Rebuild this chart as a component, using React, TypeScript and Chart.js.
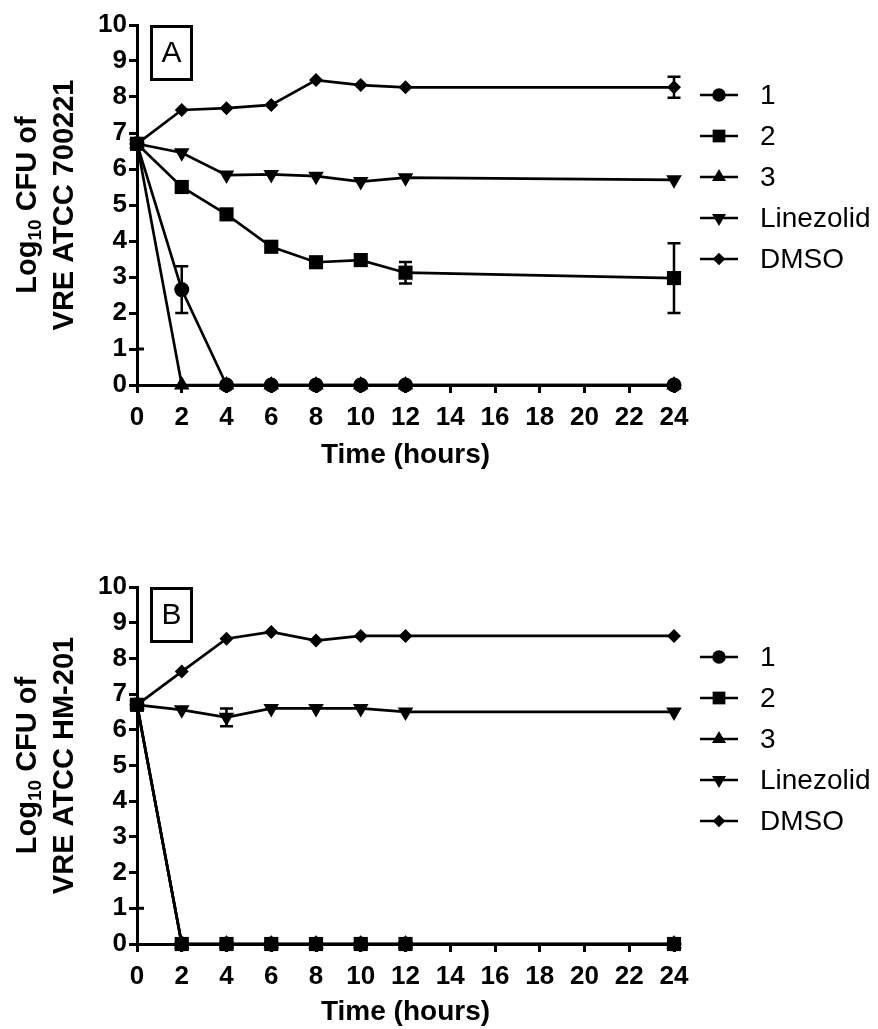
import React, { useEffect, useRef } from 'react';
import { Chart, registerables } from 'chart.js';

Chart.register(...registerables);

// ---------- data ----------
const times = [0, 2, 4, 6, 8, 10, 12, 24];
const xTickValues = [0, 2, 4, 6, 8, 10, 12, 14, 16, 18, 20, 22, 24];
const yTickValues = [0, 1, 2, 3, 4, 5, 6, 7, 8, 9, 10];
const seriesNames = ['1', '2', '3', 'Linezolid', 'DMSO'];
const xTitle = 'Time (hours)';
const detectionLimit = 1;

// Panel A (VRE ATCC 700221)
const a1 = [6.7, 2.65, 0, 0, 0, 0, 0, 0];
const a2 = [6.7, 5.5, 4.74, 3.84, 3.41, 3.47, 3.12, 2.97];
const a3 = [6.7, 0, 0, 0, 0, 0, 0, 0];
const aLinezolid = [6.7, 6.45, 5.83, 5.85, 5.8, 5.65, 5.76, 5.7];
const aDmso = [6.7, 7.64, 7.69, 7.78, 8.47, 8.33, 8.27, 8.27];
const aErr1 = [0, 0.65, 0, 0, 0, 0, 0, 0];
const aErr2 = [0, 0, 0, 0, 0, 0, 0.3, 0.97];
const aErr3 = [0, 0, 0, 0, 0, 0, 0, 0];
const aErrLinezolid = [0, 0, 0, 0, 0, 0, 0, 0];
const aErrDmso = [0, 0, 0, 0, 0, 0, 0, 0.29];

// Panel B (VRE ATCC HM-201)
const b1 = [6.7, 0, 0, 0, 0, 0, 0, 0];
const b2 = [6.7, 0, 0, 0, 0, 0, 0, 0];
const b3 = [6.7, 0, 0, 0, 0, 0, 0, 0];
const bLinezolid = [6.7, 6.56, 6.35, 6.6, 6.6, 6.6, 6.5, 6.5];
const bDmso = [6.7, 7.63, 8.55, 8.74, 8.5, 8.63, 8.63, 8.63];
const bErr1 = [0, 0, 0, 0, 0, 0, 0, 0];
const bErr2 = [0, 0, 0, 0, 0, 0, 0, 0];
const bErr3 = [0, 0, 0, 0, 0, 0, 0, 0];
const bErrLinezolid = [0, 0, 0.25, 0, 0, 0, 0, 0];
const bErrDmso = [0, 0, 0, 0, 0, 0, 0, 0];

// ---------- styles ----------
const pointStyles = ['circle', 'rect', 'triangle', 'triangle', 'rectRot'];
const pointRotations = [0, 0, 0, 180, 0];
const pointRadii = [7.5, 10, 9, 9, 7];
const FONT = "'Liberation Sans', Arial, Helvetica, sans-serif";

function drawMarker(ctx: CanvasRenderingContext2D, style: string, x: number, y: number, r: number, rot: number) {
  ctx.beginPath();
  if (style === 'circle') {
    ctx.arc(x, y, r, 0, Math.PI * 2);
  } else if (style === 'rect') {
    const s = r * Math.SQRT1_2;
    ctx.rect(x - s, y - s, 2 * s, 2 * s);
  } else if (style === 'triangle') {
    let rad = (rot * Math.PI) / 180;
    ctx.moveTo(x + Math.sin(rad) * r, y - Math.cos(rad) * r);
    rad += (2 * Math.PI) / 3;
    ctx.lineTo(x + Math.sin(rad) * r, y - Math.cos(rad) * r);
    rad += (2 * Math.PI) / 3;
    ctx.lineTo(x + Math.sin(rad) * r, y - Math.cos(rad) * r);
  } else if (style === 'rectRot') {
    ctx.moveTo(x - r, y);
    ctx.lineTo(x, y - r);
    ctx.lineTo(x + r, y);
    ctx.lineTo(x, y + r);
  }
  ctx.closePath();
  ctx.fill();
}

interface PanelCfg {
  series: number[][];
  errors: number[][];
  label: string;
  yTitle2: string;
  padTop: number;
  xScaleHeight: number;
  xTitlePadBottom: number;
}

function makeChart(canvas: HTMLCanvasElement, cfg: PanelCfg) {
  const datasets = cfg.series.map((vals, i) => ({
    label: seriesNames[i],
    data: times.map((t, j) => ({ x: t, y: vals[j] })),
    borderColor: '#000',
    backgroundColor: '#000',
    borderWidth: 2.7,
    pointStyle: pointStyles[i] as any,
    rotation: pointRotations[i],
    pointRadius: pointRadii[i],
    pointBackgroundColor: '#000',
    pointBorderColor: '#000',
    pointBorderWidth: 0,
    tension: 0,
    clip: false as any,
  }));

  const overlay = {
    id: 'overlay' + cfg.label,
    afterDatasetsDraw(chart: any) {
      const ctx: CanvasRenderingContext2D = chart.ctx;
      const xs = chart.scales.x;
      const ys = chart.scales.y;
      const area = chart.chartArea;
      ctx.save();
      ctx.strokeStyle = '#000';
      // detection-limit mark crossing the y axis
      ctx.lineWidth = 3;
      const yl = ys.getPixelForValue(detectionLimit);
      ctx.beginPath();
      ctx.moveTo(area.left, yl);
      ctx.lineTo(area.left + 7, yl);
      ctx.stroke();
      // error bars
      ctx.lineWidth = 2.5;
      cfg.errors.forEach((errs, i) => {
        errs.forEach((e, j) => {
          if (!e) return;
          const v = cfg.series[i][j];
          const px = xs.getPixelForValue(times[j]);
          const yTop = ys.getPixelForValue(v + e);
          const yBot = ys.getPixelForValue(Math.max(0, v - e));
          ctx.beginPath();
          ctx.moveTo(px, yTop);
          ctx.lineTo(px, yBot);
          ctx.moveTo(px - 6.5, yTop);
          ctx.lineTo(px + 6.5, yTop);
          ctx.moveTo(px - 6.5, yBot);
          ctx.lineTo(px + 6.5, yBot);
          ctx.stroke();
        });
      });
      ctx.restore();
    },
    afterDraw(chart: any) {
      const ctx: CanvasRenderingContext2D = chart.ctx;
      const area = chart.chartArea;
      ctx.save();
      ctx.fillStyle = '#000';
      ctx.strokeStyle = '#000';
      // panel label box
      ctx.lineWidth = 3;
      ctx.strokeRect(area.left + 14.5, area.top + 1.5, 40, 53);
      ctx.font = `30px ${FONT}`;
      ctx.textAlign = 'center';
      ctx.textBaseline = 'middle';
      ctx.fillText(cfg.label, area.left + 34.5, area.top + 29);

      // legend
      const lx0 = 700, lx1 = 738, mx = 719, tx = 760;
      seriesNames.forEach((name, i) => {
        const y = area.top + 70 + i * 41;
        ctx.lineWidth = 2.5;
        ctx.beginPath();
        ctx.moveTo(lx0, y);
        ctx.lineTo(lx1, y);
        ctx.stroke();
        drawMarker(ctx, pointStyles[i], mx, y, pointRadii[i] * 0.9, pointRotations[i]);
        ctx.font = `28px ${FONT}`;
        ctx.textAlign = 'left';
        ctx.textBaseline = 'middle';
        ctx.fillText(name, tx, y + 1);
      });

      // y-axis title with subscript
      const cy = (area.top + area.bottom) / 2;
      const big = `bold 29px ${FONT}`;
      const small = `bold 19px ${FONT}`;
      ctx.textAlign = 'left';
      ctx.textBaseline = 'middle';
      ctx.save();
      ctx.translate(28, cy);
      ctx.rotate(-Math.PI / 2);
      ctx.font = big;
      const wLog = ctx.measureText('Log').width;
      const wRest = ctx.measureText(' CFU of').width;
      ctx.font = small;
      const wSub = ctx.measureText('10').width;
      const total = wLog + wSub + wRest;
      let xx = -total / 2;
      ctx.font = big;
      ctx.fillText('Log', xx, 0);
      xx += wLog;
      ctx.font = small;
      ctx.fillText('10', xx, 8);
      xx += wSub;
      ctx.font = big;
      ctx.fillText(' CFU of', xx, 0);
      ctx.restore();
      ctx.save();
      ctx.translate(65, cy);
      ctx.rotate(-Math.PI / 2);
      ctx.font = big;
      ctx.textAlign = 'center';
      ctx.fillText(cfg.yTitle2, 0, 0);
      ctx.restore();

      ctx.restore();
    },
  };

  return new Chart(canvas, {
    type: 'line',
    data: { datasets: datasets as any },
    options: {
      animation: false,
      responsive: false,
      devicePixelRatio: 1,
      layout: { padding: { left: 0, right: 204, top: cfg.padTop, bottom: 0 } },
      plugins: { legend: { display: false }, tooltip: { enabled: false }, title: { display: false } },
      scales: {
        x: {
          type: 'linear',
          min: 0,
          max: 24,
          afterBuildTicks: (s: any) => {
            s.ticks = xTickValues.map((v) => ({ value: v }));
          },
          afterFit: (s: any) => {
            s.height = cfg.xScaleHeight;
          },
          grid: {
            display: true,
            drawOnChartArea: false,
            drawTicks: true,
            tickLength: 8,
            tickWidth: 3,
            tickColor: '#000',
          },
          border: { display: true, color: '#000', width: 3 },
          ticks: {
            autoSkip: false,
            maxRotation: 0,
            padding: 9,
            color: '#000',
            font: { family: FONT, size: 26, weight: 'bold' },
          },
          title: {
            display: true,
            text: xTitle,
            color: '#000',
            font: { family: FONT, size: 28, weight: 'bold' },
            padding: { top: 0, bottom: cfg.xTitlePadBottom },
          },
        },
        y: {
          type: 'linear',
          min: 0,
          max: 10,
          afterBuildTicks: (s: any) => {
            s.ticks = yTickValues.map((v) => ({ value: v }));
          },
          afterFit: (s: any) => {
            s.width = 137;
          },
          grid: {
            display: true,
            drawOnChartArea: false,
            drawTicks: true,
            tickLength: 8,
            tickWidth: 3,
            tickColor: '#000',
          },
          border: { display: true, color: '#000', width: 3 },
          ticks: {
            padding: 2,
            color: '#000',
            font: { family: FONT, size: 26, weight: 'bold' },
          },
        },
      },
    } as any,
    plugins: [overlay],
  });
}

export default function App() {
  const refA = useRef<HTMLCanvasElement>(null);
  const refB = useRef<HTMLCanvasElement>(null);

  useEffect(() => {
    const cA = makeChart(refA.current!, {
      series: [a1, a2, a3, aLinezolid, aDmso],
      errors: [aErr1, aErr2, aErr3, aErrLinezolid, aErrDmso],
      label: 'A',
      yTitle2: 'VRE ATCC 700221',
      padTop: 25,
      xScaleHeight: 95,
      xTitlePadBottom: 8,
    });
    const cB = makeChart(refB.current!, {
      series: [b1, b2, b3, bLinezolid, bDmso],
      errors: [bErr1, bErr2, bErr3, bErrLinezolid, bErrDmso],
      label: 'B',
      yTitle2: 'VRE ATCC HM-201',
      padTop: 38,
      xScaleHeight: 85,
      xTitlePadBottom: 0,
    });
    return () => {
      cA.destroy();
      cB.destroy();
    };
  }, []);

  return (
    <div style={{ position: 'absolute', left: 0, top: 0, width: 878, height: 1029, background: '#fff', overflow: 'hidden' }}>
      <canvas ref={refA} width={878} height={480} style={{ position: 'absolute', left: 0, top: 0, width: 878, height: 480 }} />
      <canvas ref={refB} width={878} height={480} style={{ position: 'absolute', left: 0, top: 549, width: 878, height: 480 }} />
    </div>
  );
}
